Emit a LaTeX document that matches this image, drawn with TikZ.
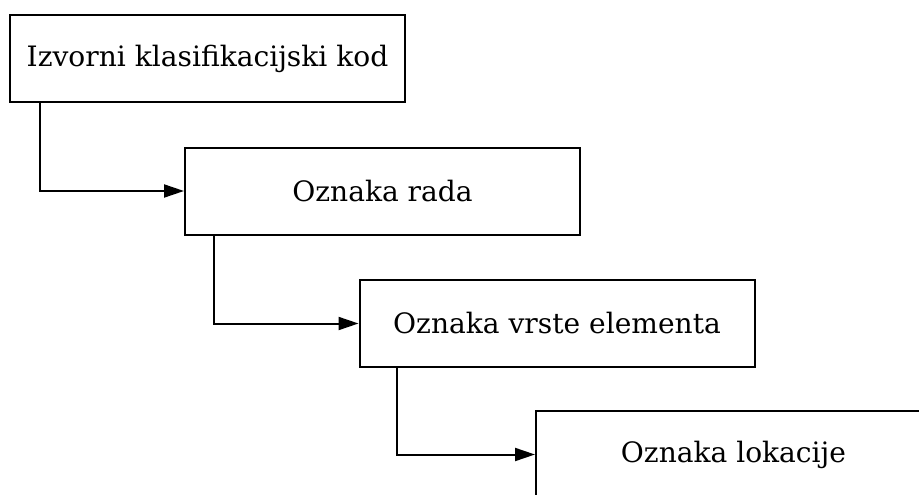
\documentclass[tikz,border=0pt]{standalone}
\usepackage{fontspec}
\setmainfont{DejaVu Serif}
\usetikzlibrary{arrows.meta}
\tikzset{
  stepbox/.style={draw, line width=2pt, rectangle, minimum width=395pt, minimum height=87pt, inner sep=0pt, font=\fontsize{28.1}{33}\selectfont},
  conn/.style={line width=2pt, -{Triangle[length=20pt,width=13pt]}}
}
\begin{document}
\begin{tikzpicture}[x=1pt,y=-1pt]
\useasboundingbox (0,0) rectangle (919,495);
\clip (0,0) rectangle (919,495);
\node[stepbox] (b1) at (207.5,58.5) {Izvorni klasifikacijski kod};
\node[stepbox] (b2) at (382.5,191) {Oznaka rada};
\node[stepbox] (b3) at (557,323.5) {Oznaka vrste elementa};
\node[stepbox] (b4) at (733.5,454.5) {Oznaka lokacije};
\draw[conn] ([xshift=30.7pt]b1.south west) |- (b2.west);
\draw[conn] ([xshift=30pt]b2.south west) |- (b3.west);
\draw[conn] ([xshift=38pt]b3.south west) |- (b4.west);
\end{tikzpicture}
\end{document}
